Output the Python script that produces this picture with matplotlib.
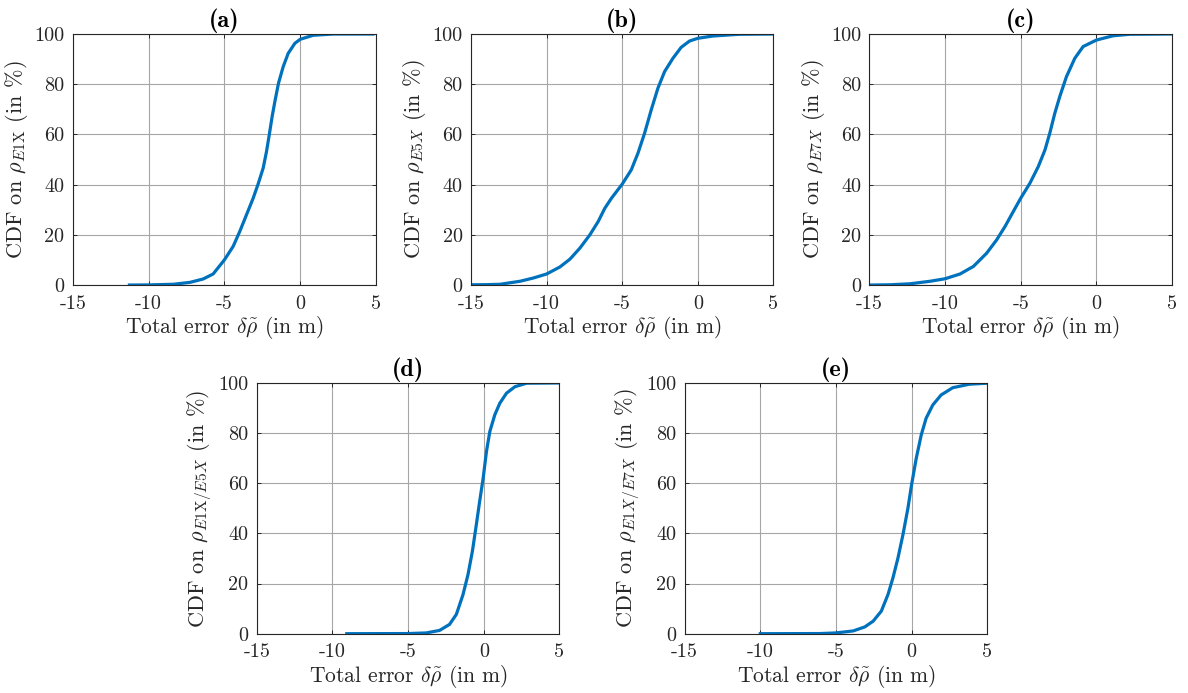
import numpy as np
import matplotlib
matplotlib.use("Agg")
import matplotlib.pyplot as plt

plt.rcParams['font.family'] = 'serif'
plt.rcParams['font.serif'] = ['cmr10']
plt.rcParams['mathtext.fontset'] = 'cm'
plt.rcParams['axes.unicode_minus'] = False

# CDF curves: total error (m) vs CDF (%)
err_a = [-11.26, -10.0, -8.37, -7.27, -6.4, -5.74, -5.0, -4.42, -3.98, -3.54, -3.1, -2.77, -2.44,
         -2.22, -2.04, -1.85, -1.65, -1.43, -1.12, -0.79, -0.35, 0.0, 0.86, 2.18, 4.8]
cdf_a = [0.0, 0.05, 0.3, 1.06, 2.4, 4.4, 10.0, 15.4, 21.4, 28.0, 34.6, 40.3, 46.6,
         53.2, 59.8, 67.1, 73.7, 80.4, 87.0, 92.3, 96.3, 97.9, 99.5, 100.0, 100.0]

err_b = [-15.0, -14.0, -13.08, -11.76, -10.88, -10.0, -9.12, -8.46, -7.8, -7.14, -6.59, -6.15, -5.71,
         -5.0, -4.4, -3.96, -3.52, -3.08, -2.64, -2.2, -1.65, -1.1, -0.55, 0.0, 0.99, 2.75, 5.0]
cdf_b = [0.1, 0.15, 0.3, 1.5, 2.8, 4.4, 7.2, 10.3, 14.7, 20.0, 25.3, 30.6, 34.6,
         40.2, 45.9, 52.5, 60.5, 69.8, 78.4, 85.0, 90.3, 94.7, 97.2, 98.3, 99.2, 99.9, 100.0]

err_c = [-15.0, -13.63, -12.31, -10.99, -10.0, -9.01, -8.13, -7.25, -6.59, -6.04, -5.49, -5.0, -4.39,
         -3.84, -3.4, -3.08, -2.75, -2.42, -1.98, -1.43, -0.88, 0.0, 1.1, 2.2, 5.0]
cdf_c = [0.0, 0.1, 0.5, 1.5, 2.5, 4.4, 7.4, 12.7, 18.0, 23.3, 29.3, 34.6, 40.6,
         47.2, 53.8, 60.5, 68.4, 75.1, 83.0, 90.3, 95.0, 97.6, 99.3, 99.9, 100.0]

err_d = [-9.05, -5.0, -3.8, -2.92, -2.26, -1.81, -1.37, -1.04, -0.75, -0.49, -0.27, -0.04, 0.18,
         0.4, 0.73, 1.06, 1.5, 2.06, 2.83, 5.0]
cdf_d = [0.0, 0.05, 0.3, 1.3, 3.7, 7.7, 15.6, 23.6, 32.9, 43.5, 52.8, 62.0, 72.7,
         80.6, 87.3, 91.9, 95.9, 98.5, 99.9, 100.0]

err_e = [-10.0, -6.05, -5.0, -3.86, -3.09, -2.54, -2.0, -1.56, -1.23, -0.9, -0.57, -0.24, 0.0,
         0.31, 0.64, 0.96, 1.4, 1.95, 2.72, 3.82, 5.0]
cdf_e = [0.0, 0.05, 0.3, 1.1, 2.7, 5.0, 9.0, 15.6, 22.3, 30.2, 39.5, 50.1, 59.4,
         70.0, 79.3, 85.9, 91.2, 95.2, 98.1, 99.5, 99.9]

titles = ['(a)', '(b)', '(c)', '(d)', '(e)']
ylabels = [r'CDF on $\rho_{E1\mathrm{X}}$ (in %)',
           r'CDF on $\rho_{E5X}$ (in %)',
           r'CDF on $\rho_{E7X}$ (in %)',
           r'CDF on $\rho_{E1\mathrm{X}/E5X}$ (in %)',
           r'CDF on $\rho_{E1X/E7X}$ (in %)']
curves = [(err_a, cdf_a), (err_b, cdf_b), (err_c, cdf_c), (err_d, cdf_d), (err_e, cdf_e)]

boxes = [[0.0612, 0.5887, 0.2553, 0.3622],
         [0.3965, 0.5887, 0.2545, 0.3622],
         [0.7318, 0.5887, 0.2548, 0.3622],
         [0.2161, 0.0856, 0.2548, 0.3618],
         [0.5763, 0.0856, 0.2547, 0.3618]]

fig = plt.figure(figsize=(11.88, 6.93), dpi=100)

for i in range(5):
    ax = fig.add_axes(boxes[i])
    x, y = curves[i]
    ax.plot(x, y, color='#0072BD', lw=2.3, solid_joinstyle='round')
    ax.set_xlim(-15, 5)
    ax.set_ylim(0, 100)
    ax.set_xticks([-15, -10, -5, 0, 5])
    ax.set_yticks([0, 20, 40, 60, 80, 100])
    ax.grid(True, color='#a6a6a6', lw=0.8)
    ax.set_axisbelow(True)
    ax.tick_params(direction='in', length=3, width=0.7, top=True, right=True,
                   labelsize=14.5, colors='#262626', labelcolor='#262626')
    ax.tick_params(axis='x', pad=7)
    ax.tick_params(axis='y', pad=6)
    for s in ax.spines.values():
        s.set_color('#262626')
        s.set_linewidth(0.8)
    ax.set_xlabel(r'Total error $\delta\tilde{\rho}$ (in m)', fontsize=15.5, color='#262626', labelpad=1)
    ax.set_ylabel(ylabels[i], fontsize=16, color='#262626', labelpad=3)
    ax.set_title(titles[i], fontsize=17.5, fontfamily='cmb10', pad=5)

fig.savefig('out.png', dpi=100)
